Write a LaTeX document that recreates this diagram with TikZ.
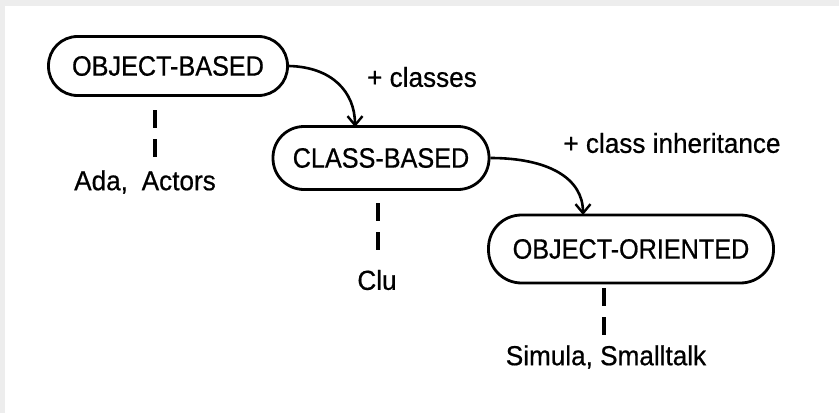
\documentclass[tikz,border=0pt]{standalone}
\usepackage{fontspec}
\setmainfont{Liberation Sans}
\newfontfamily\capsfont[FakeStretch=0.9,FakeBold=0.6]{Liberation Sans}
\newfontfamily\lblfont[FakeStretch=0.95,FakeBold=0.6]{Liberation Sans}
\usetikzlibrary{arrows.meta}
\tikzset{
  stadium/.style={draw, line width=2.8pt, rounded corners=29pt, inner sep=0pt,
    font=\capsfont\fontsize{28}{32}\selectfont},
  lbl/.style={inner sep=0pt, font=\lblfont\fontsize{27.5}{31}\selectfont},
  flow/.style={line width=2.6pt, -{Straight Barb[length=9pt,width=15pt,line width=2.4pt]}},
  dashline/.style={line width=3.2pt, dash pattern=on 18pt off 11pt}
}
\begin{document}
\begin{tikzpicture}[x=1pt,y=-1pt]
\useasboundingbox (0,0) rectangle (839,415);
\fill[white] (0,0) rectangle (839,415);
\fill[gray!14] (0,0) rectangle (839,6);
\fill[gray!14] (0,0) rectangle (5,413);

\node[stadium, minimum width=239pt, minimum height=59pt] (ob) at (168,66) {OBJECT-BASED\hspace{18pt}};
\node[stadium, minimum width=216pt, minimum height=63pt, rounded corners=31pt] (cb) at (381,158) {CLASS-BASED\hspace{10pt}};
\node[stadium, minimum width=285pt, minimum height=68pt, rounded corners=33pt] (oo) at (631,249) {OBJECT-ORIENTED};

\node[lbl] (ada) at (145,182) {Ada,\hspace{0.5em}Actors};
\node[lbl] (clu) at (377,280) {Clu};
\node[lbl] (sim) at (606,357) {Simula, Smalltalk};
\node[lbl] (cls) at (422,77) {+ classes};
\node[lbl] (inh) at (672,143) {+ class inheritance};

\coordinate (t1) at (355,127);
\coordinate (t2) at (583,215);
\draw[flow] (ob.east) .. controls (332,67) and (355,92) .. (t1);
\draw[flow] (cb.east) .. controls (548,158) and (583,178) .. (t2);

\coordinate (d1) at (155,110);
\coordinate (d2) at (378,203);
\coordinate (d3) at (604,288);
\draw[dashline] (d1) -- (d1 |- 0,157);
\draw[dashline] (d2) -- (d2 |- 0,252);
\draw[dashline] (d3) -- (d3 |- 0,337);
\end{tikzpicture}
\end{document}
